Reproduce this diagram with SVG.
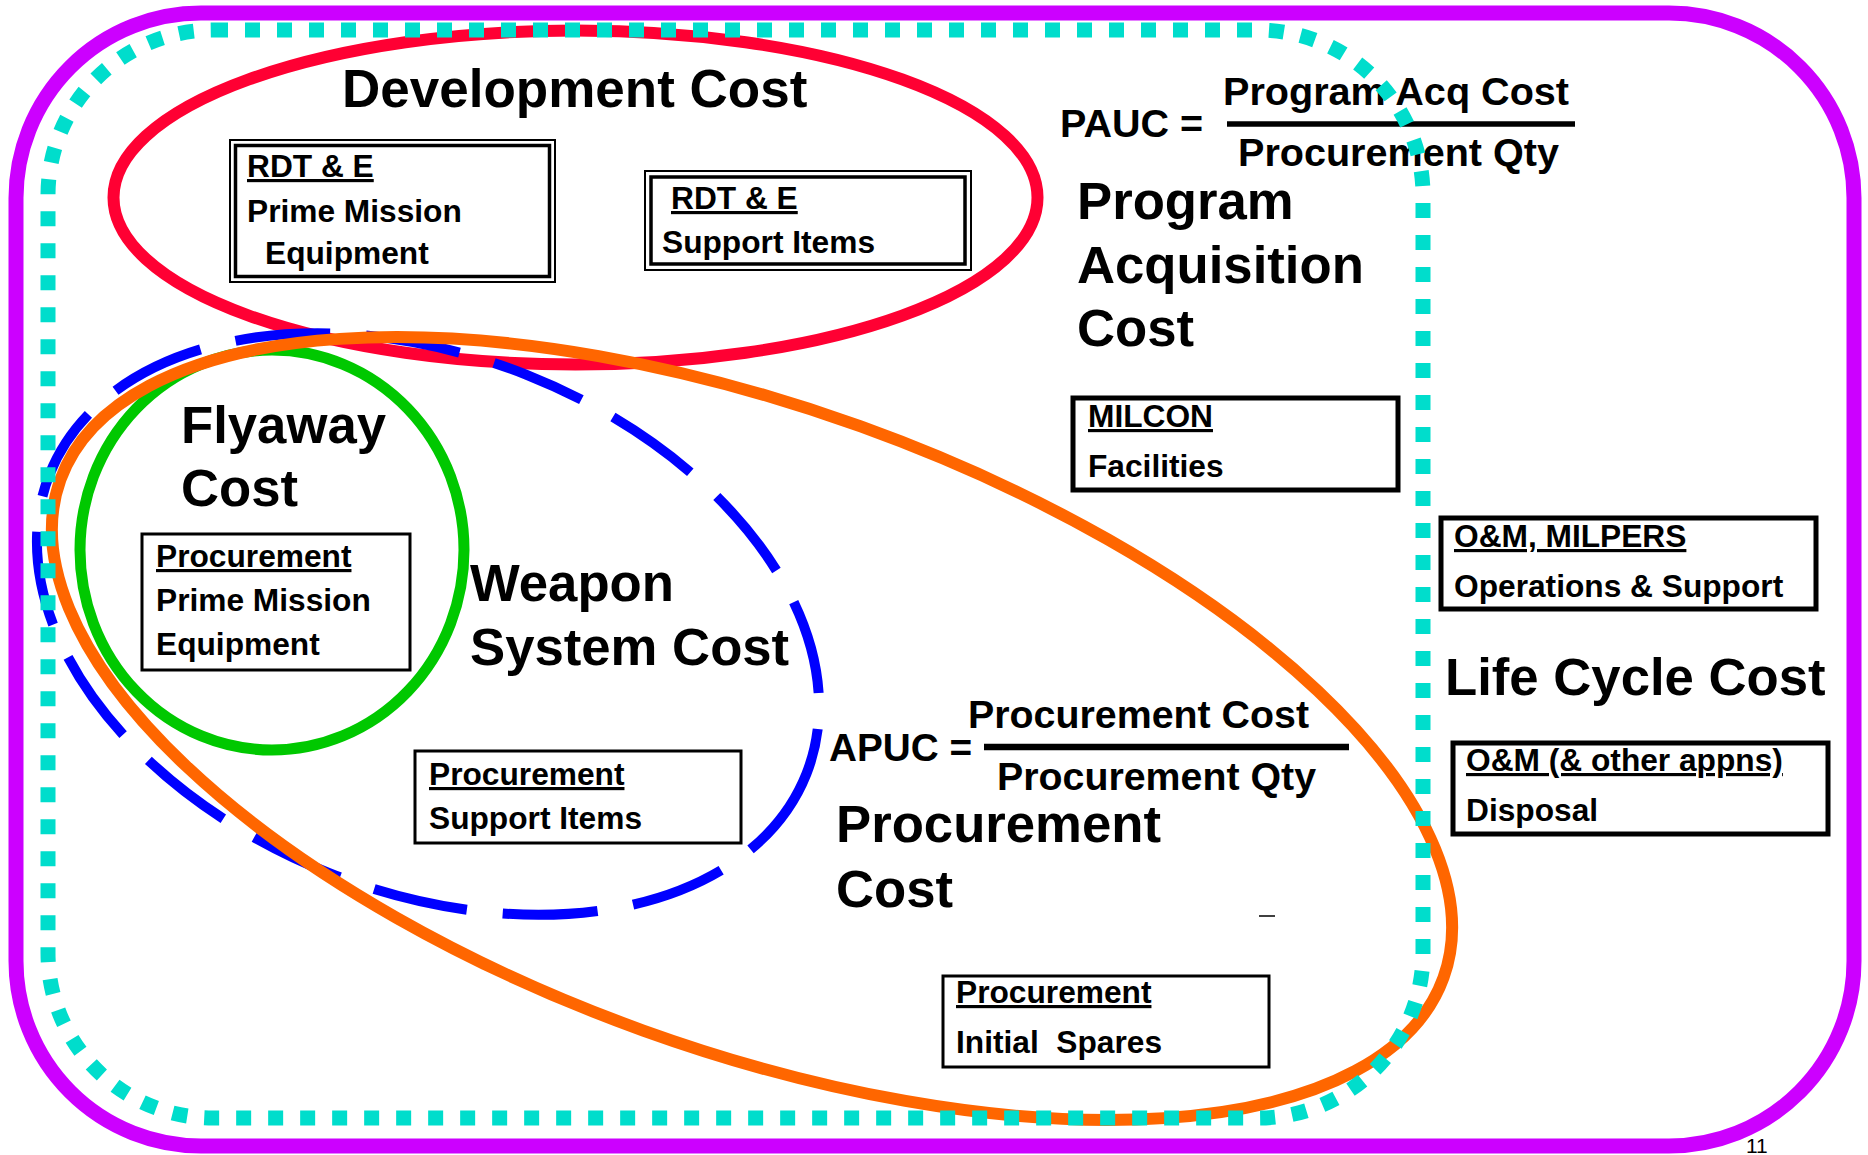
<svg xmlns="http://www.w3.org/2000/svg" width="1868" height="1155" viewBox="0 0 1868 1155">
<style>
text{font-family:"Liberation Sans",Arial,sans-serif;font-weight:bold;fill:#000}
.big{font-size:52.7px}
.box{font-size:31.7px}
.frm{font-size:38px}
.u{text-decoration:underline}
.b3{fill:#fff;stroke:#000;stroke-width:3}
.b5{fill:#fff;stroke:#000;stroke-width:5}
.thin{fill:none;stroke:#000;stroke-width:2}
.thick{fill:none;stroke:#000;stroke-width:3.5}
.fline{stroke:#000;stroke-width:5.5}
</style>
<rect width="1868" height="1155" fill="#fff"/>
<g id="development-cost-ellipse">
<ellipse cx="575.5" cy="197.5" rx="462" ry="167" fill="none" stroke="#FF0033" stroke-width="12"/>
</g>
<g id="flyaway-cost-ellipse">
<ellipse cx="272" cy="550" rx="192" ry="200" fill="none" stroke="#00C800" stroke-width="11"/>
</g>
<g id="weapon-system-cost-ellipse">
<ellipse cx="0" cy="0" rx="407" ry="268" transform="translate(428 624) rotate(21.6)" fill="none" stroke="#0000FF" stroke-width="10" stroke-dasharray="95 36"/>
</g>
<g id="procurement-cost-ellipse">
<ellipse cx="0" cy="0" rx="735" ry="321" transform="translate(752 728.5) rotate(19.8)" fill="none" stroke="#FF6600" stroke-width="12"/>
</g>
<g id="connectors"></g>
<g id="development-cost-label">
<text class="big" x="342" y="107" style="font-size:53px">Development Cost</text>
</g>
<g id="rdte-prime">
<rect class="thin" x="230" y="140" width="325" height="142"/>
<rect class="thick" x="235.5" y="145.5" width="314" height="131"/>
<text class="box u" x="247" y="177">RDT &amp; E</text>
<text class="box" x="247" y="222">Prime Mission</text>
<text class="box" x="265" y="264">Equipment</text>
</g>
<g id="rdte-support">
<rect class="thin" x="645" y="171" width="326" height="99"/>
<rect class="thick" x="651" y="177" width="314" height="87"/>
<text class="box u" x="671" y="209">RDT &amp; E</text>
<text class="box" x="662" y="253">Support Items</text>
</g>
<g id="pauc-formula">
<text class="frm" x="1060" y="137" textLength="143" lengthAdjust="spacingAndGlyphs">PAUC =</text>
<text class="frm" x="1223" y="105" textLength="346" lengthAdjust="spacingAndGlyphs">Program Acq Cost</text>
<line class="fline" x1="1227" y1="124" x2="1575" y2="124"/>
<text class="frm" x="1238" y="166" textLength="321" lengthAdjust="spacingAndGlyphs">Procurement Qty</text>
</g>
<g id="program-acquisition-cost-label">
<text class="big" x="1077" y="219">Program</text>
<text class="big" x="1077" y="283">Acquisition</text>
<text class="big" x="1077" y="346">Cost</text>
</g>
<g id="milcon">
<rect class="b5" x="1073" y="398" width="325" height="92"/>
<text class="box u" x="1088" y="427">MILCON</text>
<text class="box" x="1088" y="477">Facilities</text>
</g>
<g id="om-milpers">
<rect class="b5" x="1441" y="518" width="375" height="91"/>
<text class="box u" x="1454" y="547">O&amp;M, MILPERS</text>
<text class="box" x="1454" y="597">Operations &amp; Support</text>
</g>
<g id="life-cycle-cost-label">
<text class="big" x="1445" y="695">Life Cycle Cost</text>
</g>
<g id="om-other">
<rect class="b5" x="1453" y="743" width="375" height="91"/>
<text class="box u" x="1466" y="771">O&amp;M (&amp; other appns)</text>
<text class="box" x="1466" y="821">Disposal</text>
</g>
<g id="flyaway-cost-label">
<text class="big" x="181" y="443">Flyaway</text>
<text class="big" x="181" y="506">Cost</text>
</g>
<g id="procurement-prime">
<rect class="b3" x="142" y="534" width="268" height="136"/>
<text class="box u" x="156" y="567">Procurement</text>
<text class="box" x="156" y="611">Prime Mission</text>
<text class="box" x="156" y="655">Equipment</text>
</g>
<g id="weapon-system-cost-label">
<text class="big" x="470" y="601">Weapon</text>
<text class="big" x="470" y="665">System Cost</text>
</g>
<g id="procurement-support">
<rect class="b3" x="415" y="751" width="326" height="92"/>
<text class="box u" x="429" y="785">Procurement</text>
<text class="box" x="429" y="829">Support Items</text>
</g>
<g id="apuc-formula">
<text class="frm" x="829" y="761" textLength="143" lengthAdjust="spacingAndGlyphs">APUC =</text>
<text class="frm" x="968" y="728" textLength="341" lengthAdjust="spacingAndGlyphs">Procurement Cost</text>
<line class="fline" x1="984" y1="747" x2="1349" y2="747" style="stroke-width:6.5"/>
<text class="frm" x="997" y="790" textLength="319" lengthAdjust="spacingAndGlyphs">Procurement Qty</text>
</g>
<g id="procurement-cost-label">
<text class="big" x="836" y="842">Procurement</text>
<text class="big" x="836" y="907">Cost</text>
<line x1="1259" y1="916" x2="1275" y2="916" stroke="#000" stroke-width="1.5"/>
</g>
<g id="procurement-spares">
<rect class="b3" x="943" y="976" width="326" height="91"/>
<text class="box u" x="956" y="1003">Procurement</text>
<text class="box" x="956" y="1053" xml:space="preserve">Initial  Spares</text>
</g>
<g id="program-acquisition-boundary">
<rect x="48" y="30" width="1375" height="1088" rx="165" ry="165" fill="none" stroke="#00DDCC" stroke-width="15" stroke-dasharray="15 17"/>
</g>
<g id="life-cycle-boundary">
<rect x="16" y="13" width="1838" height="1133" rx="185" ry="185" fill="none" stroke="#CC00FF" stroke-width="15"/>
</g>
<g id="page-number">
<text x="1746" y="1153" style="font-size:21px;font-weight:normal">11</text>
</g>
</svg>
